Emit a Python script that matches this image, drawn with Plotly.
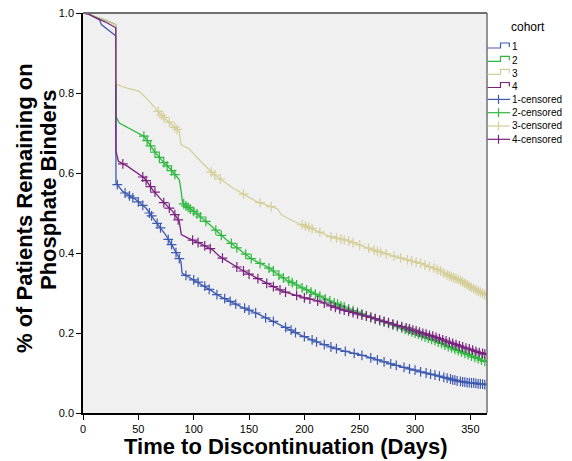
import plotly.graph_objects as go

# ---------------- data ----------------
cohorts = ["1", "2", "3", "4"]
colors = {"1": "#3E5AB0", "2": "#2DB83E", "3": "#D5CE98", "4": "#7B2180"}

t1 = [0, 4.5, 10, 15, 16.6, 24, 29.5, 29.8, 35.8, 47.9, 56.9, 64.5, 73.5, 81, 88.5, 89.5, 96,
      105.4, 117, 123.4, 141.5, 159.5, 177.6, 195.6, 213.7, 231.8, 255.9, 286, 316, 340, 364]
s1 = [1.0, 0.998, 0.99, 0.983, 0.971, 0.954, 0.943, 0.575, 0.554, 0.533, 0.5125, 0.483, 0.45,
      0.4165, 0.379, 0.35, 0.339, 0.325, 0.304, 0.292, 0.267, 0.246, 0.221, 0.196, 0.175, 0.158,
      0.1415, 0.1165, 0.096, 0.079, 0.071]

t2 = [0, 5, 12, 20, 29.6, 29.8, 32.8, 45, 55.4, 64.5, 72, 79.5, 87, 88.5, 90, 96, 102, 114.4,
      129.5, 141.5, 153.5, 165.6, 183.6, 195.6, 210.7, 225.7, 237.8, 261.8, 292, 316, 337, 364]
s2 = [1.0, 0.998, 0.99, 0.983, 0.971, 0.741, 0.725, 0.708, 0.6915, 0.654, 0.629, 0.608, 0.583,
      0.558, 0.525, 0.512, 0.50, 0.471, 0.433, 0.408, 0.383, 0.3665, 0.333, 0.3165, 0.296, 0.2765,
      0.2625, 0.2375, 0.208, 0.183, 0.158, 0.128]

t3 = [0, 5, 12, 20, 29.6, 29.8, 31.6, 40, 51, 60, 72, 80, 87, 88.5, 96, 105, 117.4, 135.4, 156.5,
      176, 179, 189.6, 201.7, 222.7, 237.8, 261.8, 279.9, 304, 322, 340, 352, 364]
s3 = [1.0, 0.998, 0.99, 0.982, 0.97, 0.825, 0.82, 0.812, 0.804, 0.779, 0.741, 0.722, 0.704, 0.671,
      0.66, 0.633, 0.598, 0.5625, 0.529, 0.51, 0.496, 0.48, 0.4665, 0.4415, 0.432, 0.408, 0.393,
      0.375, 0.3565, 0.333, 0.3125, 0.294]

t4 = [0, 5, 12, 20, 29.6, 29.8, 32, 40.4, 55.4, 63, 72, 81, 87, 88.8, 95, 105, 117, 123.4, 143,
      162.5, 180.6, 195.6, 213.7, 231.8, 261.8, 292, 316, 337, 364]
s4 = [1.0, 0.997, 0.988, 0.978, 0.963, 0.654, 0.629, 0.6165, 0.5875, 0.558, 0.529, 0.504, 0.479,
      0.446, 0.437, 0.425, 0.408, 0.3915, 0.358, 0.329, 0.304, 0.2915, 0.279, 0.26, 0.2375, 0.2125,
      0.1915, 0.171, 0.146]

# censoring marks (time, survival)
c1_t = [31, 38, 42, 45, 50, 54, 60, 62, 67, 70, 77, 80, 84, 87, 93, 100, 104, 110, 114, 121, 128,
        133, 138, 146, 150, 156, 165, 172, 183, 188, 192, 200, 207, 211, 218, 224, 229, 237, 245,
        252, 260, 266, 272, 278, 283, 290, 295, 300, 305, 310, 314, 318, 322, 326, 329, 332, 334,
        336, 338, 341, 343, 345, 347, 349, 351, 353, 355, 357, 359, 361, 363]
c1_s = [0.571, 0.550, 0.543, 0.538, 0.528, 0.519, 0.500, 0.493, 0.474, 0.463, 0.434, 0.421, 0.401,
        0.386, 0.344, 0.333, 0.327, 0.317, 0.309, 0.296, 0.286, 0.279, 0.272, 0.262, 0.257, 0.250,
        0.238, 0.229, 0.214, 0.207, 0.201, 0.191, 0.183, 0.178, 0.171, 0.165, 0.161, 0.154, 0.149,
        0.144, 0.138, 0.133, 0.128, 0.123, 0.119, 0.114, 0.110, 0.107, 0.103, 0.100, 0.097, 0.095,
        0.092, 0.089, 0.087, 0.085, 0.083, 0.082, 0.080, 0.079, 0.078, 0.077, 0.076, 0.076, 0.075,
        0.075, 0.074, 0.073, 0.073, 0.072, 0.071]

c2_t = [55, 58, 61, 65, 69, 73, 76, 80, 83, 91, 93, 95, 97, 100, 103, 106, 111, 120, 125, 134, 139,
        147, 152, 160, 168, 172, 177, 181, 186, 189, 193, 198, 202, 206, 210, 214, 219, 223, 227,
        230, 233, 236, 240, 244, 248, 252, 256, 260, 264, 268, 272, 276, 280, 284, 288, 291, 294,
        297, 300, 303, 306, 309, 312, 315, 318, 321, 324, 327, 330, 333, 336, 339, 342, 345, 348,
        351, 354, 357, 360, 363]
c2_s = [0.692, 0.681, 0.668, 0.652, 0.639, 0.626, 0.618, 0.606, 0.596, 0.523, 0.518, 0.514, 0.510,
        0.504, 0.498, 0.490, 0.479, 0.457, 0.444, 0.424, 0.413, 0.397, 0.386, 0.374, 0.362, 0.355,
        0.345, 0.338, 0.330, 0.326, 0.320, 0.313, 0.308, 0.302, 0.297, 0.292, 0.285, 0.280, 0.275,
        0.272, 0.268, 0.265, 0.260, 0.256, 0.252, 0.248, 0.243, 0.239, 0.235, 0.231, 0.228, 0.224,
        0.220, 0.216, 0.212, 0.209, 0.206, 0.203, 0.200, 0.197, 0.193, 0.190, 0.187, 0.184, 0.181,
        0.177, 0.174, 0.170, 0.166, 0.163, 0.159, 0.156, 0.152, 0.149, 0.146, 0.142, 0.139, 0.136,
        0.132, 0.129]

c3_t = [68, 71, 73, 78, 83, 85, 116, 119, 124, 145, 160, 170, 198, 201, 204, 207, 214, 224, 229,
        233, 236, 240, 244, 250, 258, 263, 266, 269, 274, 281, 287, 293, 297, 301, 305, 309, 313,
        317, 320, 323, 326, 329, 331, 333, 335, 337, 339, 341, 343, 345, 347, 349, 351, 353, 355,
        357, 359, 361, 363]
c3_s = [0.754, 0.744, 0.739, 0.727, 0.714, 0.709, 0.602, 0.595, 0.585, 0.547, 0.526, 0.516, 0.471,
        0.467, 0.464, 0.461, 0.452, 0.441, 0.437, 0.435, 0.433, 0.430, 0.426, 0.420, 0.412, 0.407,
        0.404, 0.402, 0.398, 0.392, 0.388, 0.383, 0.380, 0.377, 0.374, 0.370, 0.366, 0.362, 0.359,
        0.355, 0.350, 0.346, 0.343, 0.341, 0.338, 0.336, 0.334, 0.331, 0.327, 0.324, 0.321, 0.317,
        0.314, 0.311, 0.308, 0.305, 0.302, 0.299, 0.296]

c4_t = [36, 54, 57, 61, 65, 73, 78, 83, 86, 99, 104, 110, 115, 126, 139, 145, 150, 158, 166, 172,
        178, 183, 193, 200, 205, 212, 218, 224, 228, 232, 236, 240, 244, 248, 252, 256, 260, 264,
        268, 272, 276, 280, 284, 288, 292, 295, 298, 301, 304, 307, 310, 313, 316, 319, 322, 325,
        328, 331, 334, 337, 340, 343, 346, 349, 352, 355, 358, 361, 363]
c4_s = [0.623, 0.590, 0.581, 0.566, 0.552, 0.526, 0.512, 0.496, 0.483, 0.432, 0.426, 0.418, 0.411,
        0.387, 0.365, 0.355, 0.347, 0.336, 0.324, 0.316, 0.308, 0.302, 0.294, 0.288, 0.285, 0.280,
        0.275, 0.268, 0.264, 0.260, 0.257, 0.254, 0.251, 0.248, 0.245, 0.242, 0.239, 0.236, 0.232,
        0.229, 0.226, 0.222, 0.219, 0.216, 0.213, 0.210, 0.207, 0.205, 0.202, 0.199, 0.197, 0.194,
        0.192, 0.189, 0.186, 0.183, 0.180, 0.177, 0.174, 0.171, 0.168, 0.165, 0.162, 0.160, 0.157,
        0.154, 0.151, 0.149, 0.147]

curves = {"1": (t1, s1), "2": (t2, s2), "3": (t3, s3), "4": (t4, s4)}
censors = {"1": (c1_t, c1_s), "2": (c2_t, c2_s), "3": (c3_t, c3_s), "4": (c4_t, c4_s)}

x_ticks = [0, 50, 100, 150, 200, 250, 300, 350]
y_ticks = [0.0, 0.2, 0.4, 0.6, 0.8, 1.0]
legend_title = "cohort"
legend_labels = ["1", "2", "3", "4", "1-censored", "2-censored", "3-censored", "4-censored"]

# ---------------- layout geometry (screen pixels) ----------------
OFF = 8                      # page body margin offsets the figure on screen
W, H = 572, 461
PL, PT, PR, PB = 83, 13, 487, 413   # plot box in screen pixels
L, T = PL - OFF, PT - OFF
PW, PH = PR - PL, PB - PT
R, B = W - L - PW, H - T - PH
FONT = "Liberation Sans, Arial, sans-serif"


def px(x):
    return (x - PL) / PW


def py(y):
    return (PB - y) / PH


fig = go.Figure()

for c in cohorts:
    t, s = curves[c]
    fig.add_trace(go.Scatter(x=t, y=s, mode="lines", name=c, showlegend=False,
                             line=dict(color=colors[c], width=1.3)))
for c in cohorts:
    t, s = censors[c]
    fig.add_trace(go.Scatter(x=t, y=s, mode="markers", name=c + "-censored",
                             showlegend=False,
                             marker=dict(symbol="cross-thin", size=7, color=colors[c],
                                         line=dict(color=colors[c], width=1.2))))

# ---------------- legend (drawn) ----------------
shapes = [
    dict(type="line", xref="paper", yref="paper", x0=0, x1=1, y0=1, y1=1,
         line=dict(color="#707070", width=2)),
    dict(type="line", xref="paper", yref="paper", x0=1, x1=1, y0=0, y1=1,
         line=dict(color="#707070", width=1.5)),
]
annotations = [
    dict(text=legend_title, xref="paper", yref="paper", x=px(509), y=py(27),
         xanchor="left", yanchor="middle", showarrow=False, font=dict(size=12)),
]
row_y = [46.7, 60.0, 73.0, 86.2, 99.4, 112.7, 126.0, 139.3]
for i, lab in enumerate(legend_labels):
    yy = row_y[i]
    col = colors[cohorts[i % 4]]
    annotations.append(dict(text=lab, xref="paper", yref="paper", x=px(509.5), y=py(yy),
                            xanchor="left", yanchor="middle", showarrow=False,
                            font=dict(size=10)))
    if i < 4:
        path = "M {:.4f},{:.4f} L {:.4f},{:.4f} L {:.4f},{:.4f} L {:.4f},{:.4f} L {:.4f},{:.4f}".format(
            px(487.5), py(yy + 1.3), px(500.5), py(yy + 1.3), px(500.5), py(yy - 3.7),
            px(509.3), py(yy - 3.7), px(509.3), py(yy + 0.3))
        shapes.append(dict(type="path", xref="paper", yref="paper", path=path,
                           line=dict(color=col, width=1.2)))
    else:
        shapes.append(dict(type="line", xref="paper", yref="paper", x0=px(487.5), x1=px(510),
                           y0=py(yy), y1=py(yy), line=dict(color=col, width=1.2)))
        shapes.append(dict(type="line", xref="paper", yref="paper", x0=px(498.5), x1=px(498.5),
                           y0=py(yy - 4.5), y1=py(yy + 4.5), line=dict(color=col, width=1.2)))

# axis titles
annotations += [
    dict(text="<b>Time to Discontinuation (Days)</b>", xref="paper", yref="paper",
         x=px(286), y=py(446), xanchor="center", yanchor="middle", showarrow=False,
         font=dict(size=22)),
    dict(text="<b>% of Patients Remaining on</b>", xref="paper", yref="paper",
         x=px(24), y=py(208), xanchor="center", yanchor="middle", showarrow=False,
         textangle=-90, font=dict(size=22)),
    dict(text="<b>Phosphate Binders</b>", xref="paper", yref="paper",
         x=px(48), y=py(190), xanchor="center", yanchor="middle", showarrow=False,
         textangle=-90, font=dict(size=22)),
]

fig.update_layout(
    width=W, height=H,
    margin=dict(l=L, r=R, t=T, b=B, autoexpand=False),
    paper_bgcolor="white", plot_bgcolor="#F0F0F0",
    font=dict(family=FONT, size=11, color="black"),
    showlegend=False,
    xaxis=dict(range=[0, 365], tickvals=x_ticks, showgrid=False, zeroline=False,
               automargin=False, showline=True, linecolor="black", linewidth=1.5,
               ticks="outside", ticklen=5, tickcolor="black", tickfont=dict(size=11),
               ticklabeloverflow="allow"),
    yaxis=dict(range=[0, 1.0], tickvals=y_ticks, tickformat=".1f", showgrid=False,
               automargin=False, zeroline=False, showline=True, linecolor="black",
               linewidth=1.5, ticks="outside", ticklen=5, tickcolor="black",
               tickfont=dict(size=11), ticklabeloverflow="allow"),
    shapes=shapes,
    annotations=annotations,
)

fig.write_html("out.html")
